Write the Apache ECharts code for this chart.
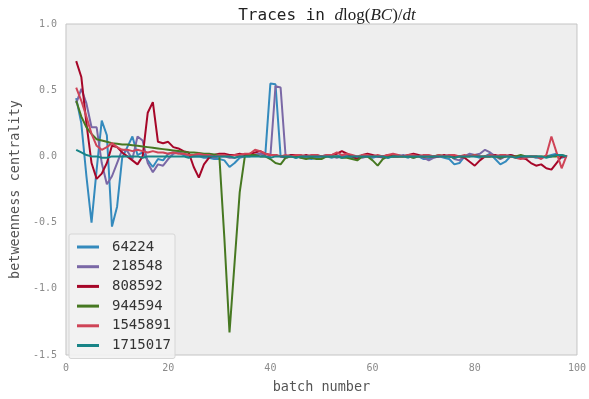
<!DOCTYPE html>
<html>
<head>
<meta charset="utf-8">
<script src="https://cdn.jsdelivr.net/npm/echarts@6/dist/echarts.min.js"></script>
<style>html,body{margin:0;padding:0;background:#fff;}#c{width:589px;height:399px;}</style>
</head>
<body>
<div id="c"></div>
<script>
// batch numbers 2..98
const batches = [];
for (let b = 2; b <= 98; b++) batches.push(b);

const seriesNames = ['64224', '218548', '808592', '944594', '1545891', '1715017'];
const seriesColors = ['#348ABD', '#7A68A6', '#A60628', '#467821', '#CF4457', '#188487'];

const s64224 = [
  0.44, 0.25, -0.15, -0.50, -0.10, 0.27, 0.16, -0.53, -0.38, -0.01,
  0.07, 0.15, 0.01, 0.03, -0.03, -0.08, -0.02, -0.03, 0.02, 0.03,
  0.03, 0.01, 0.00, 0.00, 0.00, -0.01, -0.01, -0.02, -0.02, -0.03,
  -0.08, -0.05, -0.01, 0.00, 0.00, 0.01, 0.02, 0.01, 0.55, 0.545,
  0.00, -0.01, 0.00, -0.01, 0.00, -0.01, -0.02, -0.01, 0.00, 0.00,
  -0.01, 0.00, 0.01, 0.00, -0.01, -0.01, 0.00, 0.00, -0.01, 0.00,
  0.00, -0.01, 0.00, 0.01, 0.00, -0.01, 0.01, 0.00, -0.02, -0.02,
  0.00, 0.00, -0.01, -0.02, -0.06, -0.05, 0.00, 0.01, 0.00, -0.01,
  0.00, 0.02, -0.02, -0.06, -0.04, 0.00, 0.00, -0.01, 0.00, 0.00,
  -0.01, -0.01, 0.00, 0.01, 0.02, -0.01, 0.00
];
const s218548 = [
  0.40, 0.51, 0.40, 0.22, 0.22, -0.05, -0.21, -0.15, -0.05, 0.05,
  0.04, -0.02, 0.15, 0.12, -0.05, -0.12, -0.06, -0.07, -0.02, 0.02,
  0.03, 0.02, 0.01, 0.00, 0.01, 0.00, 0.00, -0.01, 0.00, 0.00,
  -0.01, -0.01, 0.00, 0.00, 0.01, 0.01, 0.02, 0.00, 0.00, 0.53,
  0.52, -0.01, 0.00, 0.00, -0.01, 0.00, -0.01, 0.00, 0.00, 0.01,
  0.00, -0.01, 0.00, 0.01, 0.00, 0.00, -0.01, 0.00, 0.00, 0.00,
  -0.01, 0.00, 0.00, 0.00, 0.01, 0.00, -0.01, 0.00, -0.01, -0.03,
  -0.01, 0.00, 0.00, 0.01, -0.02, -0.03, 0.00, 0.02, 0.01, 0.02,
  0.05, 0.03, 0.00, -0.02, 0.00, 0.01, 0.00, 0.00, -0.01, 0.00,
  0.00, -0.01, 0.00, 0.00, 0.01, 0.00, 0.00
];
const s808592 = [
  0.72, 0.60, 0.25, -0.05, -0.17, -0.13, -0.05, 0.08, 0.07, 0.03,
  0.00, -0.03, -0.06, 0.00, 0.33, 0.41, 0.11, 0.10, 0.11, 0.07,
  0.06, 0.04, 0.03, -0.08, -0.16, -0.06, -0.01, 0.01, 0.02, 0.02,
  0.01, 0.01, 0.02, 0.01, 0.02, 0.03, 0.04, 0.02, 0.01, 0.01,
  0.00, 0.00, 0.01, 0.01, 0.00, 0.01, 0.00, 0.01, 0.00, 0.00,
  0.01, 0.02, 0.04, 0.02, 0.00, -0.02, 0.01, 0.02, 0.01, 0.00,
  0.00, 0.01, 0.00, 0.00, 0.00, 0.01, 0.02, 0.01, 0.00, 0.00,
  0.00, 0.00, 0.01, 0.00, 0.00, 0.00, -0.01, -0.04, -0.07, -0.03,
  0.00, 0.00, 0.01, 0.00, 0.00, 0.01, 0.00, -0.01, -0.02, -0.05,
  -0.07, -0.06, -0.09, -0.10, -0.05, 0.00, 0.00
];
const s944594 = [
  0.42, 0.30, 0.22, 0.17, 0.13, 0.12, 0.11, 0.10, 0.095, 0.09,
  0.09, 0.085, 0.08, 0.075, 0.07, 0.065, 0.06, 0.055, 0.05, 0.045,
  0.04, 0.035, 0.03, 0.03, 0.025, 0.02, 0.02, 0.015, 0.01, -0.62,
  -1.33, -0.80, -0.27, 0.00, 0.01, 0.01, 0.00, 0.00, -0.02, -0.05,
  -0.06, -0.01, 0.00, 0.00, -0.01, -0.02, -0.01, -0.02, -0.02, 0.00,
  0.00, 0.00, -0.01, -0.01, -0.02, -0.03, 0.00, 0.00, -0.03, -0.07,
  -0.02, 0.00, 0.00, 0.00, 0.00, 0.00, -0.01, 0.00, 0.00, 0.00,
  0.00, 0.01, 0.00, 0.00, -0.01, 0.00, 0.00, 0.00, 0.01, 0.00,
  0.00, 0.00, 0.00, -0.01, 0.00, 0.00, 0.00, 0.01, 0.00, 0.00,
  0.00, 0.00, 0.00, 0.00, 0.00, 0.01, 0.00
];
const s1545891 = [
  0.52, 0.42, 0.30, 0.17, 0.08, 0.05, 0.07, 0.10, 0.07, 0.05,
  0.05, 0.04, 0.05, 0.04, 0.03, 0.04, 0.03, 0.03, 0.02, 0.03,
  0.02, 0.02, 0.01, 0.01, 0.02, 0.01, 0.01, 0.00, 0.01, 0.01,
  0.00, 0.01, 0.01, 0.02, 0.02, 0.05, 0.04, 0.02, 0.01, 0.01,
  0.00, 0.01, 0.00, 0.01, 0.01, 0.00, 0.01, 0.01, 0.00, 0.01,
  0.01, 0.03, 0.01, 0.02, 0.01, 0.00, 0.01, 0.01, 0.00, 0.01,
  0.00, 0.01, 0.02, 0.01, 0.00, 0.01, 0.01, 0.00, 0.01, 0.01,
  0.00, 0.01, 0.00, 0.01, 0.01, 0.00, 0.01, 0.00, 0.01, 0.00,
  0.00, 0.01, 0.00, 0.01, 0.01, 0.00, -0.01, -0.02, -0.01, 0.00,
  0.00, -0.02, 0.01, 0.15, 0.03, -0.09, 0.01
];
const s1715017 = [
  0.05, 0.03, 0.01, 0.00, 0.00, -0.01, -0.01, 0.00, 0.00, 0.00,
  0.00, 0.00, 0.00, -0.01, 0.00, 0.00, 0.00, 0.00, 0.00, 0.00,
  0.00, 0.00, -0.01, 0.00, 0.00, 0.00, 0.00, 0.00, 0.00, 0.00,
  0.00, -0.01, 0.00, 0.00, 0.00, 0.00, 0.00, 0.00, -0.01, 0.00,
  0.00, 0.00, 0.00, -0.01, 0.00, 0.00, 0.00, 0.00, 0.00, 0.00,
  0.00, 0.00, -0.01, 0.00, 0.00, 0.00, 0.00, 0.00, 0.00, 0.00,
  0.00, -0.01, 0.00, 0.00, 0.00, 0.00, 0.00, 0.00, 0.00, 0.00,
  0.00, 0.00, 0.00, 0.00, -0.01, 0.00, 0.00, 0.00, 0.00, 0.00,
  0.00, 0.00, 0.00, 0.00, 0.00, 0.00, -0.01, 0.00, 0.00, 0.00,
  0.00, 0.00, -0.01, 0.00, 0.01, 0.01, 0.00
];
const seriesValues = [s64224, s218548, s808592, s944594, s1545891, s1715017];

const xTicks = { min: 0, max: 100, interval: 20 };
const yTicks = { min: -1.5, max: 1.0, interval: 0.5 };

const mono = '"DejaVu Sans Mono", monospace';
const serif = '"Liberation Serif", "DejaVu Serif", serif';

const chart = echarts.init(document.getElementById('c'), null, { renderer: 'canvas' });
chart.setOption({
  animation: false,
  backgroundColor: '#ffffff',
  title: {
    text: '{a|Traces in }{i|d}{r|log(}{i|BC}{r|)/}{i|dt}',
    left: 322,
    textAlign: 'center',
    top: 2,
    textStyle: {
      fontWeight: 'normal',
      rich: {
        a: { fontFamily: mono, fontSize: 16, fontWeight: 'normal', color: '#222' },
        i: { fontFamily: serif, fontStyle: 'italic', fontWeight: 'normal', fontSize: 17, color: '#222' },
        r: { fontFamily: serif, fontWeight: 'normal', fontSize: 17, color: '#222' }
      }
    }
  },
  grid: {
    left: 61, right: 7, top: 24, bottom: 39,
    show: true, backgroundColor: '#eeeeee', borderColor: '#c4c4c4', borderWidth: 1
  },
  legend: {
    orient: 'vertical',
    left: 69, top: 234,
    padding: [6, 4, 6, 8],
    itemGap: 5.7,
    itemWidth: 22, itemHeight: 3,
    icon: 'rect',
    backgroundColor: 'rgba(242,242,242,0.9)',
    borderColor: '#d6d6d6', borderWidth: 1, borderRadius: 2,
    data: seriesNames,
    textStyle: { fontFamily: mono, fontSize: 14, color: '#333', padding: [0, 0, 0, 8] }
  },
  xAxis: {
    type: 'value',
    min: xTicks.min, max: xTicks.max, interval: xTicks.interval,
    name: 'batch number', nameLocation: 'middle', nameGap: 25,
    nameTextStyle: { fontFamily: mono, fontSize: 13.5, color: '#555' },
    axisLine: { show: false }, axisTick: { show: false }, splitLine: { show: false },
    axisLabel: { fontFamily: mono, fontSize: 10, color: '#8a8a8a', margin: 8 }
  },
  yAxis: {
    type: 'value',
    min: yTicks.min, max: yTicks.max, interval: yTicks.interval,
    name: 'betweenness centrality', nameLocation: 'middle', nameGap: 41,
    nameTextStyle: { fontFamily: mono, fontSize: 13.5, color: '#555' },
    axisLine: { show: false }, axisTick: { show: false }, splitLine: { show: false },
    axisLabel: { fontFamily: mono, fontSize: 10, color: '#8a8a8a', margin: 9,
      formatter: v => v.toFixed(1) }
  },
  series: seriesNames.map((n, k) => ({
    name: n,
    type: 'line',
    data: batches.map((b, j) => [b, seriesValues[k][j]]),
    showSymbol: false,
    symbol: 'none',
    smooth: false,
    lineStyle: { width: 2, color: seriesColors[k] },
    itemStyle: { color: seriesColors[k] },
    z: 2 + k
  }))
});
</script>
</body>
</html>
